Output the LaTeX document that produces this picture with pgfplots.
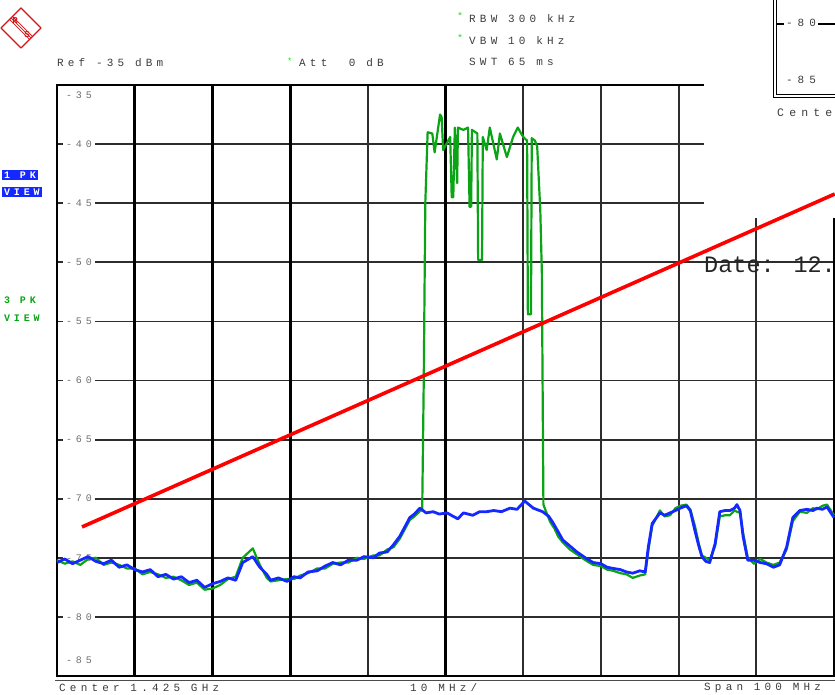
\documentclass[border=0pt]{standalone}
\usepackage{pgfplots}
\pgfplotsset{compat=1.18}
\usepackage{fontspec}
\setmainfont{Liberation Mono}
\newfontfamily\monoA[LetterSpace=38]{Liberation Mono}
\newfontfamily\monoB[LetterSpace=45]{Liberation Mono}
\definecolor{tblue}{RGB}{20,40,255}
\definecolor{tgreen}{RGB}{10,165,20}
\definecolor{sgreen}{RGB}{40,220,40}
\definecolor{txt}{RGB}{60,60,60}
\definecolor{tick}{RGB}{110,110,110}
\definecolor{grd}{RGB}{45,45,45}
\definecolor{rsred}{RGB}{210,20,20}
\begin{document}
\begin{tikzpicture}[x=1pt,y=1pt]
\useasboundingbox (0,0) rectangle (835,694);
\begin{axis}[at={(57pt,18pt)}, anchor=south west, scale only axis,
  width=777pt, height=591pt,
  xmin=0, xmax=100, ymin=-85, ymax=-35,
  xtick={0,10,...,100}, ytick={-85,-80,...,-35},
  xticklabels={}, yticklabels={},
  major tick length=0pt,
  grid=major, major grid style={draw=grd, line width=1.8pt},
  extra x ticks={10,20,30,50}, extra x tick labels={},
  extra x tick style={major grid style={draw=black, line width=2.8pt}},
  axis line style={line width=2.6pt, draw=black},
  clip=false]
% level labels
\node[anchor=west, inner xsep=3pt, inner ysep=1pt, text=tick, font=\monoA\fontsize{10}{12}\selectfont] at (axis cs:0.77,-35.85) {-35};
\node[anchor=west, fill=white, inner xsep=3pt, inner ysep=1pt, text=tick, font=\monoA\fontsize{10}{12}\selectfont] at (axis cs:0.77,-40) {-40};
\node[anchor=west, fill=white, inner xsep=3pt, inner ysep=1pt, text=tick, font=\monoA\fontsize{10}{12}\selectfont] at (axis cs:0.77,-45) {-45};
\node[anchor=west, fill=white, inner xsep=3pt, inner ysep=1pt, text=tick, font=\monoA\fontsize{10}{12}\selectfont] at (axis cs:0.77,-50) {-50};
\node[anchor=west, fill=white, inner xsep=3pt, inner ysep=1pt, text=tick, font=\monoA\fontsize{10}{12}\selectfont] at (axis cs:0.77,-55) {-55};
\node[anchor=west, fill=white, inner xsep=3pt, inner ysep=1pt, text=tick, font=\monoA\fontsize{10}{12}\selectfont] at (axis cs:0.77,-60) {-60};
\node[anchor=west, fill=white, inner xsep=3pt, inner ysep=1pt, text=tick, font=\monoA\fontsize{10}{12}\selectfont] at (axis cs:0.77,-65) {-65};
\node[anchor=west, fill=white, inner xsep=3pt, inner ysep=1pt, text=tick, font=\monoA\fontsize{10}{12}\selectfont] at (axis cs:0.77,-70) {-70};
\node[anchor=west, fill=white, inner xsep=3pt, inner ysep=1pt, text=tick, font=\monoA\fontsize{10}{12}\selectfont] at (axis cs:0.77,-75) {-75};
\node[anchor=west, fill=white, inner xsep=3pt, inner ysep=1pt, text=tick, font=\monoA\fontsize{10}{12}\selectfont] at (axis cs:0.77,-80) {-80};
\node[anchor=west, inner xsep=3pt, inner ysep=1pt, text=tick, font=\monoA\fontsize{10}{12}\selectfont] at (axis cs:0.77,-83.65) {-85};
% overlapping window patch
\fill[white] (axis cs:83.3,-46.25) rectangle (axis cs:103,-26);
% trace 3 (green)
\addplot[tgreen, line width=2.2pt, line join=round] coordinates {
(0,-75.2) (1,-75.5) (2,-75.3) (3,-75.6) (4,-75.1) (5,-75.0) (6,-75.6) (7,-75.4) (8,-75.6) (9,-75.9)
(10,-75.9) (11,-76.4) (12,-76.2) (13,-76.4) (14,-76.7) (15,-76.6) (16,-76.9) (17,-77.3) (18,-77.1) (19,-77.7)
(20,-77.6) (21,-77.3) (22,-76.8) (23,-76.6) (23.9,-75.0) (25.2,-74.2) (26.1,-75.6) (27,-76.7) (27.5,-77.0) (28.5,-76.9)
(29.6,-76.8) (30.5,-76.8) (31.3,-76.5) (32.3,-76.3) (33.5,-75.9) (34.5,-75.9) (35.5,-75.5) (36.5,-75.4) (37.5,-75.4) (38.6,-75.0)
(39.5,-75.1) (40.7,-74.8) (41.5,-74.8) (42.5,-74.3) (43.3,-74.1) (44.1,-73.4) (45.0,-72.3) (45.4,-71.8) (46,-71.5) (46.8,-71.0)
(47.0,-71.0) (47.2,-60) (47.4,-45) (47.7,-39.0) (48.3,-39.1) (48.6,-40.7) (49.3,-37.5) (49.5,-37.7) (49.7,-40.5) (50.6,-39.4)
(50.8,-44.5) (51.0,-44.5) (51.2,-38.6) (51.5,-43.3) (51.6,-38.6) (52.3,-38.8) (52.9,-38.6) (53.1,-45.3) (53.3,-45.3) (53.4,-38.8)
(54.1,-39.1) (54.2,-49.8) (54.7,-49.8) (54.8,-39.4) (55.3,-40.5) (55.7,-38.6) (56.6,-41.3) (57.0,-39.1) (57.9,-41.1) (58.7,-39.4)
(59.3,-38.6) (60.0,-39.4) (60.5,-39.7) (60.6,-54.4) (61.0,-54.4) (61.1,-39.5) (61.5,-39.7) (61.8,-40.2) (62.2,-45.6) (62.4,-50.9)
(62.6,-70.5) (63.0,-71.2) (63.5,-72.0) (64.0,-72.5) (64.5,-73.2) (65.1,-73.7) (66,-74.3) (66.9,-74.7) (68,-75.2) (69,-75.6) (70,-75.7)
(70.8,-76.0) (71.6,-76.1) (72.5,-76.3) (73.3,-76.4) (74.1,-76.7) (75,-76.5) (75.7,-76.4) (76.1,-74.4) (76.6,-72.3) (77.6,-71.0)
(78.2,-71.5) (78.9,-71.4) (79.6,-70.8) (80.2,-70.6) (81,-70.5) (81.5,-70.9) (82.1,-72.3) (82.6,-73.8) (83,-74.8) (83.5,-75.0)
(84,-75.2) (84.7,-74.0) (85.3,-71.5) (86,-71.4) (86.6,-71.4) (87.2,-71.0) (87.5,-71.1) (87.9,-71.2) (88.3,-72.9) (88.9,-75.0)
(89.7,-75.5) (90.5,-75.1) (91.3,-75.4) (92.2,-75.6) (93,-75.4) (93.9,-74.3) (94.7,-71.9) (95.6,-71.1) (96.5,-71.2) (97.3,-70.8)
(97.8,-70.9) (98.5,-70.6) (99.1,-70.5) (100,-71.4)};
% trace 1 (blue)
\addplot[tblue, line width=2.8pt, line join=round] coordinates {
(0,-75.4) (1,-75.1) (2,-75.5) (3,-75.2) (4,-74.9) (5,-75.3) (6,-75.5) (7,-75.2) (8,-75.8) (9,-75.6)
(10,-76.0) (11,-76.2) (12,-76.0) (13,-76.6) (14,-76.4) (15,-76.8) (16,-76.6) (17,-77.1) (18,-76.9) (19,-77.5)
(20,-77.2) (21,-77.0) (22,-76.7) (23,-76.9) (23.9,-75.4) (25.2,-74.9) (26.1,-75.8) (27,-76.4) (27.5,-76.9) (28.5,-76.7)
(29.6,-77.0) (30.5,-76.6) (31.3,-76.7) (32.3,-76.2) (33.5,-76.1) (34.5,-75.7) (35.5,-75.4) (36.5,-75.6) (37.5,-75.2) (38.6,-75.2)
(39.5,-74.9) (40.7,-75.0) (41.5,-74.6) (42.5,-74.5) (43.3,-73.9) (44.1,-73.2) (45.0,-72.1) (45.4,-71.6) (46,-71.3) (46.7,-70.8)
(47.5,-71.2) (48.4,-71.1) (49.2,-71.3) (50.2,-71.2) (51,-71.5) (51.6,-71.7) (52.3,-71.2) (53.5,-71.4) (54.4,-71.1) (55.3,-71.1)
(56.2,-71.0) (57.2,-71.1) (58.3,-70.8) (59.2,-70.9) (60.2,-70.2) (61.3,-70.8) (62.5,-71.1) (63.3,-71.5) (63.8,-72.0) (64.5,-72.8)
(65.1,-73.5) (66,-74.0) (66.9,-74.5) (68,-75.0) (69,-75.4) (70,-75.5) (70.8,-75.8) (71.6,-75.9) (72.5,-76.0) (73.3,-76.2)
(74.1,-76.3) (75,-76.1) (75.7,-76.2) (76.1,-74.1) (76.6,-72.1) (77.6,-71.2) (78.2,-71.4) (78.9,-71.2) (79.6,-71.0) (80.2,-70.8)
(81,-70.6) (81.5,-71.0) (82.1,-72.7) (82.6,-74.0) (83,-74.9) (83.5,-75.3) (84,-75.4) (84.7,-73.8) (85.3,-71.1) (86,-71.0)
(86.6,-71.0) (87.2,-70.8) (87.5,-70.5) (87.9,-71.0) (88.3,-73.2) (88.9,-75.2) (89.7,-75.2) (90.5,-75.4) (91.3,-75.5) (92.2,-75.8)
(93,-75.6) (93.9,-74.1) (94.7,-71.6) (95.6,-71.0) (96.5,-70.9) (97.3,-71.0) (97.8,-70.8) (98.5,-70.9) (99.1,-70.7) (100,-71.6)};
% limit line
\addplot[red, line width=3.6pt] coordinates {(3.22,-72.39) (100.1,-44.22)};
\end{axis}
% second bottom frame line
\draw[black!70, line width=1pt] (55,13.5) -- (836,13.5);
% overlapping window fragment (top right)
\draw[black, line width=1pt] (773,694) -- (773,596) -- (836,596);
\draw[black, line width=1pt] (776,694) -- (776,599) -- (836,599);
\draw[black, line width=1.4pt] (776,670) -- (784,670);
\draw[black, line width=1.4pt] (818,670) -- (836,670);
\node[anchor=west, inner sep=0pt, text=txt, font=\monoB\fontsize{11}{12}\selectfont] at (786,671) {-80};
\node[anchor=west, inner sep=0pt, text=txt, font=\monoB\fontsize{11}{12}\selectfont] at (786,614) {-85};
\node[anchor=west, inner sep=0pt, text=txt, font=\monoB\fontsize{11.5}{13}\selectfont] at (777,581) {Cente};
% date
\node[anchor=west, inner sep=0pt, text=black!85, font=\fontsize{23.5}{26}\selectfont] at (704,429) {Date: 12.};
% header texts
\node[anchor=west, inner sep=0pt, text=txt, font=\monoA\fontsize{11}{12}\selectfont] at (57,631) {Ref -35 dBm};
\node[anchor=west, inner sep=0pt, text=sgreen, font=\fontsize{9}{10}\selectfont] at (287,633) {*};
\node[anchor=west, inner sep=0pt, text=txt, font=\monoA\fontsize{11}{12}\selectfont] at (299,631) {Att\ \ 0 dB};
\node[anchor=west, inner sep=0pt, text=sgreen, font=\fontsize{10}{10}\selectfont] at (457,678) {*};
\node[anchor=west, inner sep=0pt, text=txt, font=\monoA\fontsize{11}{12}\selectfont] at (469,675) {RBW 300 kHz};
\node[anchor=west, inner sep=0pt, text=sgreen, font=\fontsize{10}{10}\selectfont] at (457,656) {*};
\node[anchor=west, inner sep=0pt, text=txt, font=\monoA\fontsize{11}{12}\selectfont] at (469,653) {VBW 10 kHz};
\node[anchor=west, inner sep=0pt, text=txt, font=\monoA\fontsize{11}{12}\selectfont] at (469,632) {SWT 65 ms};
% footer texts
\node[anchor=west, inner sep=0pt, text=txt, font=\monoA\fontsize{11}{12}\selectfont] at (59,6) {Center 1.425 GHz};
\node[anchor=west, inner sep=0pt, text=txt, font=\monoA\fontsize{11}{12}\selectfont] at (410,6) {10 MHz/};
\node[anchor=west, inner sep=0pt, text=txt, font=\monoA\fontsize{11}{12}\selectfont] at (704,6) {Span 100 MHz};
% trace labels
\node[anchor=west, fill=tblue, text=white, inner xsep=2pt, inner ysep=2pt, font=\monoA\bfseries\fontsize{10}{11}\selectfont] at (2,519) {1 PK};
\node[anchor=west, fill=tblue, text=white, inner xsep=2pt, inner ysep=2pt, font=\monoA\bfseries\fontsize{10}{11}\selectfont] at (2,502) {VIEW};
\node[anchor=west, text=tgreen, inner xsep=2pt, inner ysep=2pt, font=\monoA\bfseries\fontsize{10}{11}\selectfont] at (2,394) {3 PK};
\node[anchor=west, text=tgreen, inner xsep=2pt, inner ysep=2pt, font=\monoA\bfseries\fontsize{10}{11}\selectfont] at (2,376) {VIEW};
% logo
\begin{scope}[shift={(21,666)}]
\draw[rsred, line width=1.4pt, line join=round] (0,20) -- (20,0) -- (0,-20) -- (-20,0) -- cycle;
\foreach \c in {-3,0,3} \draw[rsred, line width=0.7pt] ({-10+\c/2},{10+\c/2}) -- ({10+\c/2},{-10+\c/2});
\node[rsred, font=\bfseries\fontsize{9}{9}\selectfont, inner sep=0pt] at (-6,7) {R};
\node[rsred, font=\bfseries\fontsize{9}{9}\selectfont, inner sep=0pt] at (6,-7) {S};
\end{scope}
\end{tikzpicture}
\end{document}
